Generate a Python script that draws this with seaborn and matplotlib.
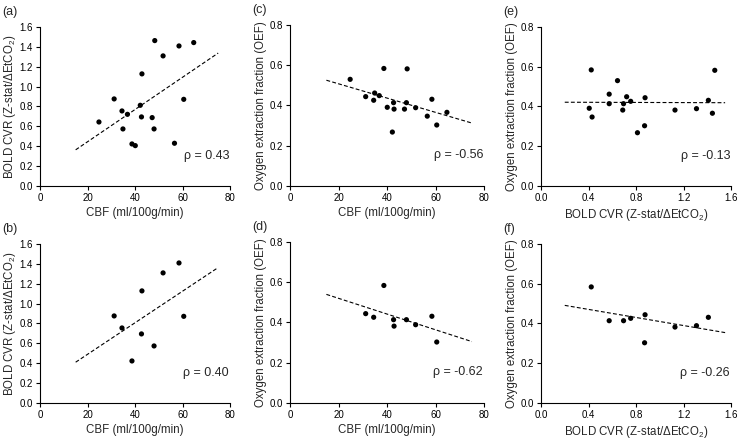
import numpy as np
import pandas as pd
import matplotlib
matplotlib.use("Agg")
from matplotlib import pyplot as plt
import seaborn as sns

sns.set_theme(style="ticks")
plt.rcParams['font.family'] = ['Liberation Sans', 'DejaVu Sans']
plt.rcParams['mathtext.fontset'] = 'custom'
plt.rcParams['mathtext.rm'] = 'Liberation Sans'

# values, one entry per subject
cbf = [24.8, 31.2, 34.5, 34.9, 36.8, 38.7, 40.1, 42.2, 42.7, 42.9,
       47.2, 48.0, 48.3, 51.8, 56.6, 58.5, 60.5, 64.7]
cvr = [0.644, 0.876, 0.755, 0.574, 0.721, 0.423, 0.406, 0.812, 0.695, 1.128,
       0.688, 0.574, 1.463, 1.309, 0.430, 1.409, 0.872, 1.443]
oef = [0.530, 0.444, 0.426, 0.462, 0.449, 0.584, 0.391, 0.268, 0.414, 0.382,
       0.382, 0.414, 0.582, 0.389, 0.347, 0.431, 0.303, 0.366]
# subjects shown in the bottom row
subset = [False, True, True, False, False, True, False, False, True, True,
          False, True, False, True, False, True, True, False]

panel_names = ["(a)", "(c)", "(e)", "(b)", "(d)", "(f)"]
rho_text = ["0.43", "-0.56", "-0.13", "0.40", "-0.62", "-0.26"]

df = pd.DataFrame({'CBF': cbf, 'CVR': cvr, 'OEF': oef, 'subset': subset})
df_sub = df[df['subset']]

cbf_label = "CBF (ml/100g/min)"
cvr_label = r"BOLD CVR (Z-stat/ΔEtCO$_\mathregular{2}$)"
oef_label = "Oxygen extraction fraction (OEF)"

fig = plt.figure(figsize=(7.4, 4.4), dpi=100)

# left, bottom, width, height for each panel
boxes = [
    [0.0541, 0.5773, 0.2568, 0.3614],
    [0.3919, 0.5773, 0.2622, 0.3659],
    [0.7311, 0.5773, 0.2568, 0.3614],
    [0.0541, 0.0841, 0.2568, 0.3614],
    [0.3919, 0.0841, 0.2622, 0.3659],
    [0.7311, 0.0841, 0.2568, 0.3614],
]

specs = [
    (df, 'CBF', 'CVR'),
    (df, 'CBF', 'OEF'),
    (df, 'CVR', 'OEF'),
    (df_sub, 'CBF', 'CVR'),
    (df_sub, 'CBF', 'OEF'),
    (df_sub, 'CVR', 'OEF'),
]

for i in range(6):
    data, xcol, ycol = specs[i]
    ax = fig.add_axes(boxes[i])
    sns.scatterplot(x=xcol, y=ycol, data=data, ax=ax, color='black',
                    s=14, edgecolor='none', linewidth=0)

    # least squares line, drawn over a fixed span like the original
    slope, icpt = np.polyfit(data[xcol], data[ycol], 1)
    if xcol == 'CBF':
        xs = np.array([15, 75])
    else:
        xs = np.array([0.2, 1.55])
    ax.plot(xs, slope * xs + icpt, color='black', lw=0.8,
            linestyle=(0, (3.5, 2)))

    if xcol == 'CBF':
        ax.set_xlim(0, 80)
        ax.set_xticks([0, 20, 40, 60, 80])
        ax.set_xlabel(cbf_label)
    else:
        ax.set_xlim(0, 1.6)
        ax.set_xticks([0.0, 0.4, 0.8, 1.2, 1.6])
        ax.set_xticklabels(["0.0", "0.4", "0.8", "1.2", "1.6"])
        ax.set_xlabel(cvr_label)
    if ycol == 'CVR':
        ax.set_ylim(0, 1.6)
        yt = [0.0, 0.2, 0.4, 0.6, 0.8, 1.0, 1.2, 1.4, 1.6]
        ax.set_yticks(yt)
        ax.set_yticklabels([f"{v:.1f}" for v in yt])
        ax.set_ylabel(cvr_label)
    else:
        ax.set_ylim(0, 0.8)
        yt = [0.0, 0.2, 0.4, 0.6, 0.8]
        ax.set_yticks(yt)
        ax.set_yticklabels([f"{v:.1f}" for v in yt])
        ax.set_ylabel(oef_label)

    ax.xaxis.label.set_size(8.3)
    ax.yaxis.label.set_size(8.3)
    ax.xaxis.labelpad = 3
    ax.yaxis.labelpad = 1.5
    ax.tick_params(axis='both', labelsize=7, length=3, width=0.8, pad=2,
                   colors='black', direction='out')
    sns.despine(ax=ax)
    for sp in ['left', 'bottom']:
        ax.spines[sp].set_linewidth(0.8)
        ax.spines[sp].set_color('black')

    ax.text(0.995, 0.19, "ρ = " + rho_text[i], transform=ax.transAxes,
            ha='right', va='center', fontsize=9)

    # panel letter in the top-left corner of the cell
    x0 = boxes[i][0] - 0.0515
    y0 = boxes[i][1] + boxes[i][3] + 0.035
    fig.text(x0, y0, panel_names[i], fontsize=9, ha='left', va='center')

fig.savefig("out.png", dpi=100)
